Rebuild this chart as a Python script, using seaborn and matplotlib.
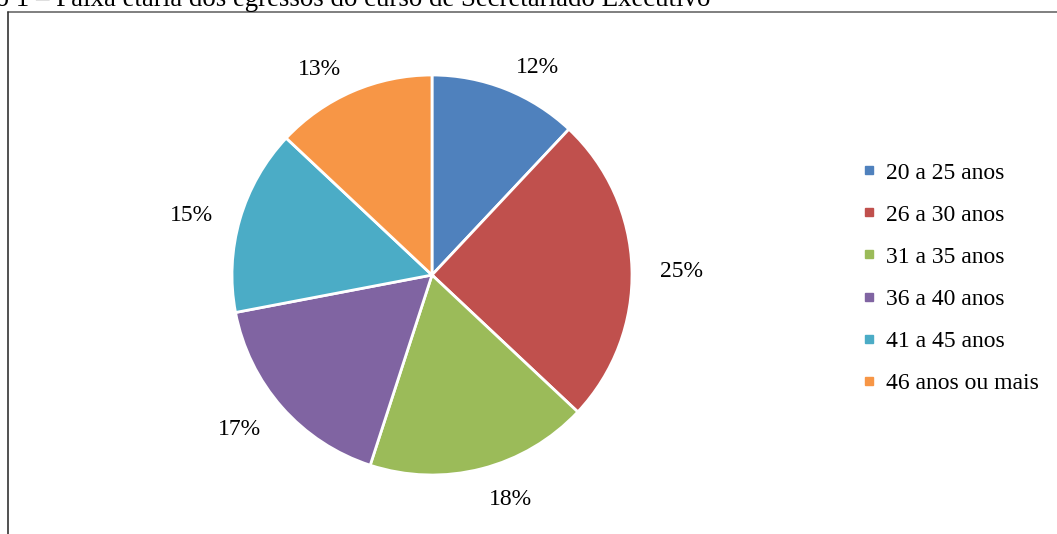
import matplotlib
matplotlib.use("Agg")
import matplotlib.pyplot as plt
import seaborn as sns
from matplotlib.lines import Line2D

# data
age_groups = ["20 a 25 anos", "26 a 30 anos", "31 a 35 anos",
              "36 a 40 anos", "41 a 45 anos", "46 anos ou mais"]
shares = [12, 25, 18, 17, 15, 13]
pct_labels = [f"{v}%" for v in shares]
title = "Gráfico 1 – Faixa etária dos egressos do curso de Secretariado Executivo"

colors = ["#4F81BD", "#C0504D", "#9BBB59", "#8064A2", "#4BACC6", "#F79646"]


def main():
    sns.set_theme(style="white")
    plt.rcParams["font.family"] = ["Liberation Serif", "DejaVu Serif"]
    plt.rcParams["text.color"] = "black"

    W, H = 1057, 534
    fig = plt.figure(figsize=(W / 100, H / 100), dpi=100)

    # pie area: centre (432, 275), radius 200 px
    cx, cy, r = 432, 275, 200
    ax = fig.add_axes([(cx - r) / W, (H - cy - r) / H, 2 * r / W, 2 * r / H])
    wedges, texts = ax.pie(
        shares,
        labels=pct_labels,
        colors=sns.color_palette(colors),
        startangle=90,
        counterclock=False,
        labeldistance=1.14,
        wedgeprops=dict(edgecolor="white", linewidth=2),
        textprops=dict(fontsize=17, color="black"),
    )
    # nudge labels down a little, like Excel's outside-end placement
    for t in texts:
        x, y = t.get_position()
        t.set_position((x, y - 0.02))
    ax.set_xlim(-1, 1)
    ax.set_ylim(-1, 1)
    ax.set_aspect("equal")
    ax.axis("off")

    handles = [Line2D([], [], marker="s", linestyle="", color=c, markersize=6)
               for c in colors]
    fig.legend(handles, age_groups, loc="center left",
               bbox_to_anchor=(862 / W, 1 - 278 / H), frameon=False,
               fontsize=17, handlelength=0.6, handletextpad=0.4,
               labelspacing=0.87, borderaxespad=0, borderpad=0,
               labelcolor="black")

    # frame of the embedded chart (only top and left edges visible)
    fig.add_artist(Line2D([8 / W, 1], [1 - 12 / H, 1 - 12 / H],
                          transform=fig.transFigure, color="#6a6a6a", lw=1.2))
    fig.add_artist(Line2D([8 / W, 8 / W], [0, 1 - 12 / H],
                          transform=fig.transFigure, color="#333333", lw=1.2))

    # caption above, cut off by the crop
    fig.text(710 / W, 1 - 6 / H, title, ha="right", va="baseline",
             fontsize=19.4, color="black")

    fig.savefig("out.png", dpi=100)


if __name__ == "__main__":
    main()
